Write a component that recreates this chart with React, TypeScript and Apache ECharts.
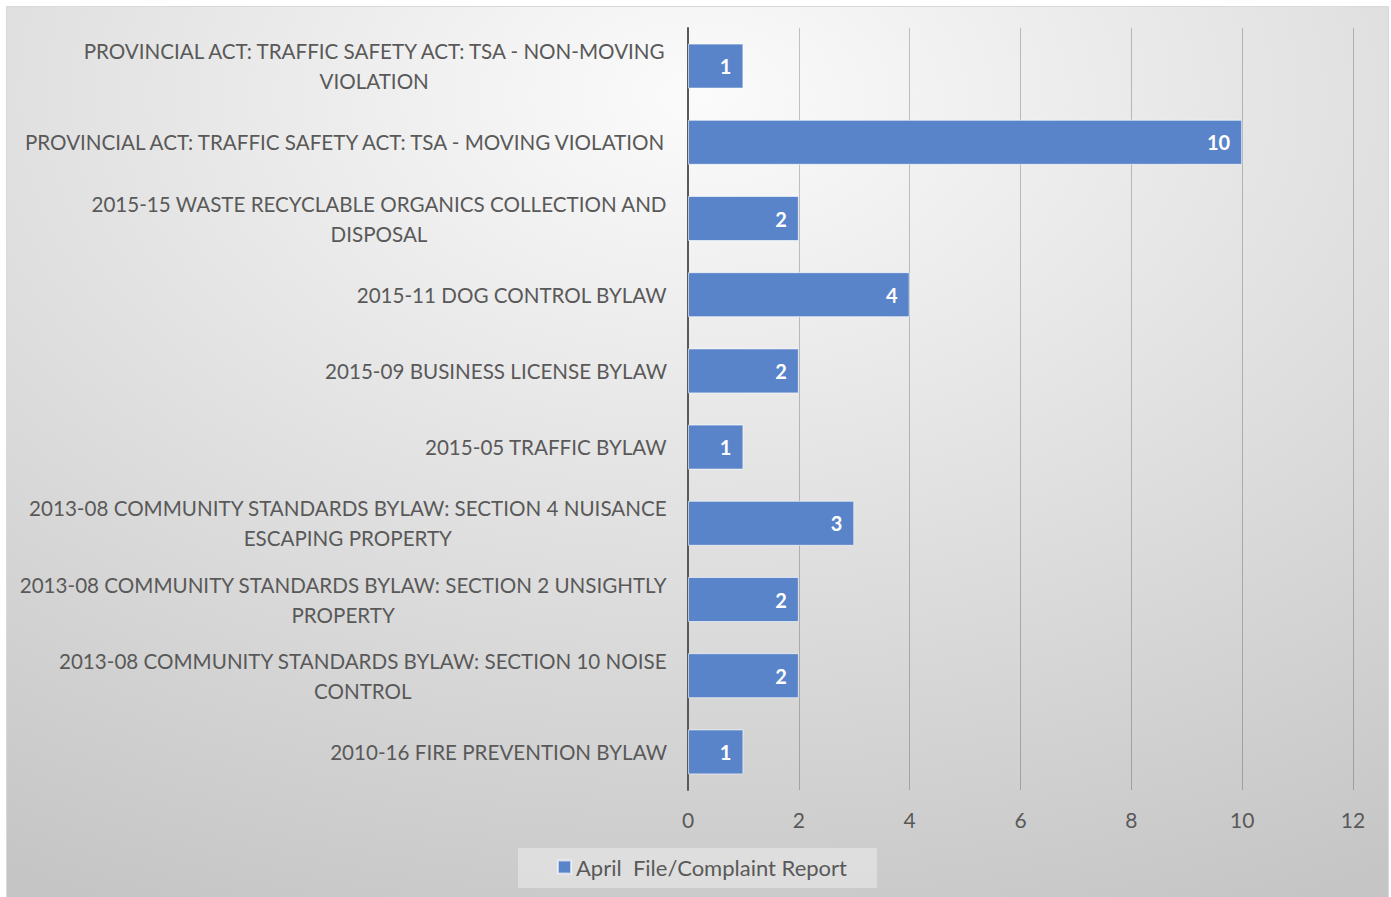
import React, { useEffect, useRef } from "react";
import * as echarts from "echarts";

const categories: string[] = [
  "PROVINCIAL ACT: TRAFFIC SAFETY ACT: TSA - NON-MOVING\nVIOLATION",
  "PROVINCIAL ACT: TRAFFIC SAFETY ACT: TSA - MOVING VIOLATION",
  "2015-15 WASTE RECYCLABLE ORGANICS COLLECTION AND\nDISPOSAL",
  "2015-11 DOG CONTROL BYLAW",
  "2015-09 BUSINESS LICENSE BYLAW",
  "2015-05 TRAFFIC BYLAW",
  "2013-08 COMMUNITY STANDARDS BYLAW: SECTION 4 NUISANCE\nESCAPING PROPERTY",
  "2013-08 COMMUNITY STANDARDS BYLAW: SECTION 2 UNSIGHTLY\nPROPERTY",
  "2013-08 COMMUNITY STANDARDS BYLAW: SECTION 10 NOISE\nCONTROL",
  "2010-16 FIRE PREVENTION BYLAW",
];
const values: number[] = [1, 10, 2, 4, 2, 1, 3, 2, 2, 1];
const seriesName = "April  File/Complaint Report";
const xMin = 0;
const xMax = 12;
const xInterval = 2;

const FONT = "Lato, 'Open Sans', sans-serif";

export default function App() {
  const ref = useRef<HTMLDivElement>(null);
  useEffect(() => {
    if (!ref.current) return;
    const chart = echarts.init(ref.current, undefined, { renderer: "svg" });
    chart.setOption({
      animation: false,
      backgroundColor: {
        type: "radial",
        x: 0.5,
        y: 0.1,
        r: 1.0,
        colorStops: [
          { offset: 0, color: "#fbfbfb" },
          { offset: 1, color: "#c5c5c5" },
        ],
      },
      grid: { left: 681, right: 35, top: 21, bottom: 110, containLabel: false },
      xAxis: {
        type: "value",
        min: xMin,
        max: xMax,
        interval: xInterval,
        axisLine: { show: false },
        axisTick: { show: false },
        splitLine: { show: true, lineStyle: { color: "rgba(0,0,0,0.22)", width: 1 } },
        axisLabel: { color: "#595959", fontSize: 21, fontFamily: FONT, margin: 19 },
      },
      yAxis: {
        type: "category",
        inverse: true,
        data: categories,
        axisLine: { show: true, lineStyle: { color: "#595959", width: 2 } },
        axisTick: { show: false },
        axisLabel: {
          margin: 21,
          align: "right",
          lineHeight: 30,
          formatter: (v: string) =>
            v
              .split("\n")
              .map((l) => `{c|${l}}`)
              .join("\n"),
          rich: {
            c: {
              align: "center",
              color: "#595959",
              fontSize: 20.6,
              fontFamily: FONT,
              lineHeight: 30,
            },
          },
        },
      },
      legend: {
        show: true,
        left: 511,
        top: 841,
        itemWidth: 13,
        itemHeight: 13,
        itemGap: 10,
        padding: [8, 30, 10, 39],
        backgroundColor: "rgba(255,255,255,0.35)",
        textStyle: { color: "#595959", fontSize: 22, fontFamily: FONT },
        icon: "rect",
        data: [seriesName],
      },
      series: [
        {
          name: seriesName,
          type: "bar",
          data: values,
          barWidth: 45,
          itemStyle: {
            color: "#5a84c9",
            borderColor: "rgba(255,255,255,0.6)",
            borderWidth: 1,
          },
          label: {
            show: true,
            position: "insideRight",
            distance: 12,
            color: "#ffffff",
            fontWeight: "bold",
            fontSize: 20,
            fontFamily: FONT,
          },
        },
      ],
    });
    return () => chart.dispose();
  }, []);
  return (
    <div
      ref={ref}
      style={{
        position: "absolute",
        left: 6,
        top: 6,
        width: 1383,
        height: 895,
        border: "1px solid #d9d9d9",
        boxSizing: "border-box",
      }}
    />
  );
}
